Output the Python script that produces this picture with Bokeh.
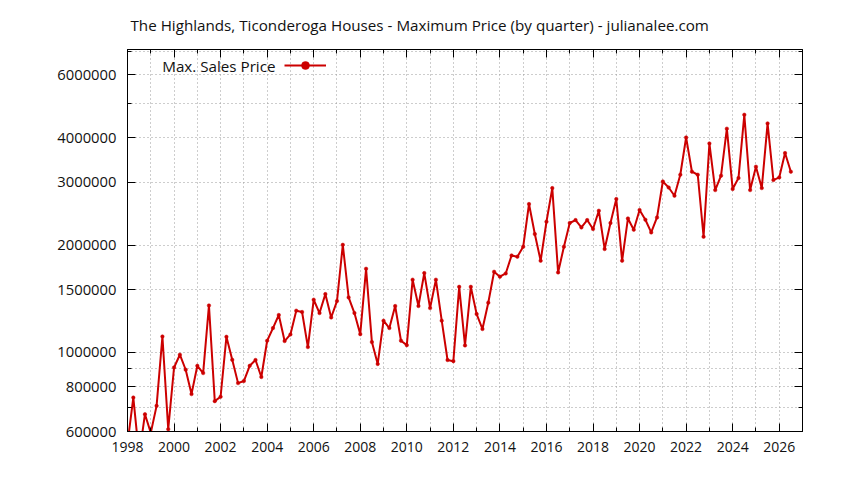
from bokeh.plotting import figure
from bokeh.models import (Range1d, FixedTicker, LinearAxis, LogAxis, NumeralTickFormatter,
                          CustomJSTickFormatter, Legend, LegendItem, Label)
from bokeh.core.properties import value
from bokeh.embed import file_html
from bokeh.resources import INLINE

# ---- data (quarterly maximum sales price) ----
quarters = [
    1998.00, 1998.25, 1998.50, 1998.75, 1999.00, 1999.25, 1999.50, 1999.75,
    2000.00, 2000.25, 2000.50, 2000.75, 2001.00, 2001.25, 2001.50, 2001.75,
    2002.00, 2002.25, 2002.50, 2002.75, 2003.00, 2003.25, 2003.50, 2003.75,
    2004.00, 2004.25, 2004.50, 2004.75, 2005.00, 2005.25, 2005.50, 2005.75,
    2006.00, 2006.25, 2006.50, 2006.75, 2007.00, 2007.25, 2007.50, 2007.75,
    2008.00, 2008.25, 2008.50, 2008.75, 2009.00, 2009.25, 2009.50, 2009.75,
    2010.00, 2010.25, 2010.50, 2010.75, 2011.00, 2011.25, 2011.50, 2011.75,
    2012.00, 2012.25, 2012.50, 2012.75, 2013.00, 2013.25, 2013.50, 2013.75,
    2014.00, 2014.25, 2014.50, 2014.75, 2015.00, 2015.25, 2015.50, 2015.75,
    2016.00, 2016.25, 2016.50, 2016.75, 2017.00, 2017.25, 2017.50, 2017.75,
    2018.00, 2018.25, 2018.50, 2018.75, 2019.00, 2019.25, 2019.50, 2019.75,
    2020.00, 2020.25, 2020.50, 2020.75, 2021.00, 2021.25, 2021.50, 2021.75,
    2022.00, 2022.25, 2022.50, 2022.75, 2023.00, 2023.25, 2023.50, 2023.75,
    2024.00, 2024.25, 2024.50, 2024.75, 2025.00, 2025.25, 2025.50, 2025.75,
    2026.00, 2026.25, 2026.50,
]
max_price = [
    555000, 747000, 513000, 671000, 595000, 708000, 1108000, 609000,
    907000, 985000, 894000, 764000, 917000, 875000, 1354000, 730000,
    751000, 1106000, 953000, 820000, 831000, 917000, 952000, 853000,
    1078000, 1170000, 1273000, 1076000, 1123000, 1309000, 1298000, 1035000,
    1405000, 1289000, 1457000, 1253000, 1393000, 2003000, 1426000, 1289000,
    1125000, 1716000, 1069000, 928000, 1227000, 1170000, 1349000, 1078000,
    1048000, 1599000, 1349000, 1669000, 1331000, 1599000, 1227000, 952000,
    945000, 1527000, 1046000, 1527000, 1281000, 1163000, 1378000, 1683000,
    1630000, 1665000, 1870000, 1855000, 1978000, 2607000, 2147000, 1807000,
    2325000, 2889000, 1676000, 1978000, 2306000, 2350000, 2241000, 2350000,
    2218000, 2496000, 1949000, 2306000, 2692000, 1807000, 2375000, 2208000,
    2507000, 2355000, 2170000, 2390000, 3015000, 2900000, 2750000, 3149000,
    4006000, 3211000, 3149000, 2110000, 3854000, 2852000, 3129000, 4240000,
    2871000, 3082000, 4639000, 2852000, 3316000, 2889000, 4387000, 3043000,
    3095000, 3623000, 3211000,
]

x_major_ticks = [1998, 2000, 2002, 2004, 2006, 2008, 2010, 2012, 2014, 2016,
                 2018, 2020, 2022, 2024, 2026]
x_minor_ticks = [1999, 2001, 2003, 2005, 2007, 2009, 2011, 2013, 2015, 2017,
                 2019, 2021, 2023, 2025]
y_major_ticks = [600000, 800000, 1000000, 1500000, 2000000, 3000000, 4000000, 6000000]
y_minor_ticks = [700000, 900000, 5000000, 7000000]

title_text = "The Highlands, Ticonderoga Houses - Maximum Price (by quarter) - julianalee.com"
series_name = "Max. Sales Price"

FONT = "Open Sans"
RED = "#cc0000"
GRID = "#9a9a9a"
TXT = "#111111"

FRAME_W = 675
FRAME_H = 382

p = figure(width=828, height=464, output_backend="svg", toolbar_location=None,
           y_axis_type="log",
           x_range=Range1d(1998, 2027), y_range=Range1d(600000, 7070000),
           min_border_left=127, min_border_right=26, min_border_top=49, min_border_bottom=33)
p.background_fill_color = "white"
p.border_fill_color = "white"
p.outline_line_color = "black"
p.outline_line_width = 1

# title (gnuplot style, spanning the picture)
p.title.text = title_text
p.title.align = "left"
p.title.offset = 3
p.title.standoff = 26
p.title.vertical_align = "top"
p.title.text_font = FONT
p.title.text_font_size = "15.2px"
p.title.text_font_style = "normal"
p.title.text_color = TXT

xt = FixedTicker(ticks=x_major_ticks, minor_ticks=x_minor_ticks)
yt = FixedTicker(ticks=y_major_ticks, minor_ticks=y_minor_ticks)
blank = CustomJSTickFormatter(code="return '';")


def style_axis(ax, labels=True, size="14px"):
    ax.axis_line_color = "black"
    ax.major_tick_line_color = "black"
    ax.minor_tick_line_color = "black"
    ax.major_tick_in = 8
    ax.major_tick_out = 0
    ax.minor_tick_in = 4
    ax.minor_tick_out = 0
    ax.major_label_text_font = FONT
    ax.major_label_text_font_size = size
    ax.major_label_text_color = TXT
    if not labels:
        ax.formatter = blank
        ax.major_label_standoff = 0


p.xaxis.ticker = xt
p.yaxis.ticker = yt
p.yaxis.formatter = NumeralTickFormatter(format="0")
style_axis(p.xaxis[0], size="14px")
style_axis(p.yaxis[0], size="14.8px")
p.xaxis.major_label_standoff = 10
p.yaxis.major_label_standoff = 11

top_ax = LinearAxis(ticker=xt)
style_axis(top_ax, labels=False)
p.add_layout(top_ax, "above")
right_ax = LogAxis(ticker=yt)
style_axis(right_ax, labels=False)
p.add_layout(right_ax, "right")

for g in (p.xgrid[0], p.ygrid[0]):
    g.grid_line_color = GRID
    g.grid_line_dash = "1 3"
    g.grid_line_width = 1
    g.minor_grid_line_color = GRID
    g.minor_grid_line_dash = "1 3"
    g.minor_grid_line_width = 1
p.xgrid.ticker = xt
p.ygrid.ticker = yt

ln = p.line(quarters, max_price, line_color=RED, line_width=2)
pts = p.scatter(quarters, max_price, size=3.5, fill_color=RED, line_color=RED,
                line_width=0.5, marker="circle")

# legend: gnuplot style (text left, sample right)
leg = Legend(items=[LegendItem(label=value(""), renderers=[ln, pts])],
             location=(157, FRAME_H - 16 - 10), glyph_width=42, glyph_height=20,
             label_width=0, label_standoff=0, padding=0, margin=0, spacing=0,
             border_line_color=None, background_fill_alpha=0,
             label_text_font=FONT, label_text_font_size="14px")
p.add_layout(leg)
p.add_layout(Label(x=148, y=FRAME_H - 16.5, x_units="screen", y_units="screen",
                   text=series_name, text_font=FONT, text_font_size="15.2px",
                   text_align="right", text_baseline="middle", text_color=TXT))

open("out.html", "w").write(file_html(p, INLINE))
